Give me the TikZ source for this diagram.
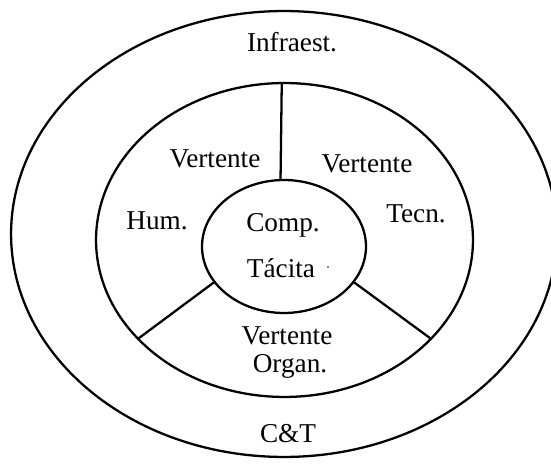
\documentclass[tikz,border=0pt]{standalone}
\usepackage{fontspec}
\setmainfont{Liberation Serif}
\usetikzlibrary{shapes.geometric}
\begin{document}
\begin{tikzpicture}[x=0.02cm,y=-0.02cm,
  ring/.style={draw, ellipse, line width=1.3pt, inner sep=0pt, outer sep=0pt},
  divider/.style={line width=1.3pt},
  lbl/.style={anchor=base, inner sep=0pt, font=\fontsize{15.5}{18}\selectfont}]
\useasboundingbox (0,0) rectangle (551,465);

% three nested rings
\node[ring, minimum width=10.92cm, minimum height=8.92cm] (outer) at (284,234) {};
\node[ring, minimum width=7.54cm, minimum height=6.28cm] (mid) at (284.5,240) {};
\node[ring, minimum width=3.28cm, minimum height=2.66cm] (core) at (284,246.5) {};

% dividers between the three sectors of the middle ring
\draw[divider] (core.93) -- (mid.91.5);
\draw[divider] (core.207) -- (mid.214.8);
\draw[divider] (core.333.4) -- (mid.326.7);

% labels
\node[lbl] (infra) at (292,52) {Infraest.};
\node[lbl] (ct) at (288,443) {C\&T};
\node[lbl] (vhum) at (215,168) {Vertente};
\node[lbl] (hum) at (157,230) {Hum.};
\node[lbl] (vtec) at (367,173) {Vertente};
\node[lbl] (tec) at (416,223) {Tecn.};
\node[lbl] (comp) at (283,232) {Comp.};
\node[lbl] (tacita) at (281,278) {Tácita};
\node[lbl] (vorg) at (287,345) {Vertente};
\node[lbl] (org) at (290,373) {Organ.};
\fill (328,267) circle[radius=0.8];
\end{tikzpicture}
\end{document}
